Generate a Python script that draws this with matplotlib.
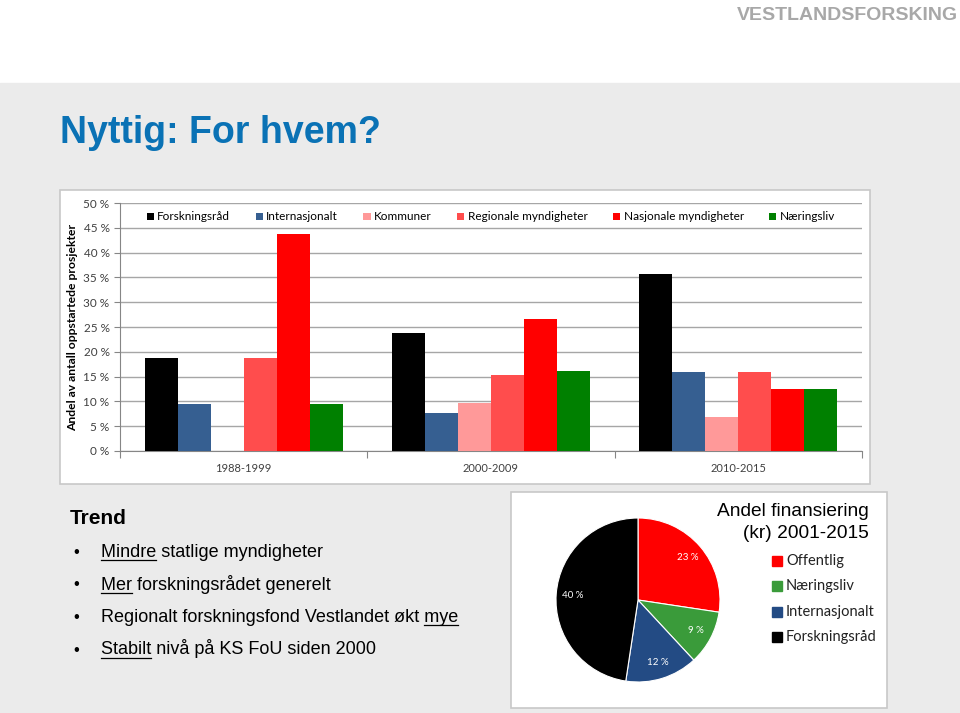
import matplotlib.pyplot as plt
import numpy as np
from matplotlib.patches import Rectangle

# --------------------------------
# Data
# --------------------------------
periods = ['1988-1999', '2000-2009', '2010-2015']
sources = ['Forskningsråd', 'Internasjonalt', 'Kommuner',
           'Regionale myndigheter', 'Nasjonale myndigheter', 'Næringsliv']
forskningsrad = [18.75, 23.8, 35.6]
internasjonalt = [9.4, 7.6, 15.9]
kommuner = [0.0, 9.7, 6.9]
regionale = [18.75, 15.4, 15.9]
nasjonale = [43.75, 26.7, 12.6]
naeringsliv = [9.4, 16.2, 12.6]
bar_colors = ['#000000', '#365f91', '#ff9999', '#ff4d4d', '#ff0000', '#008000']
yticks = list(range(0, 51, 5))

pie_labels = ['Offentlig', 'Næringsliv', 'Internasjonalt', 'Forskningsråd']
pie_values = [23, 9, 12, 40]
pie_colors = ['#ff0000', '#3a9b3a', '#234b84', '#000000']

bullets = [
    ('Mindre', ' statlige myndigheter', 'start'),
    ('Mer', ' forskningsrådet generelt', 'start'),
    ('mye', 'Regionalt forskningsfond Vestlandet økt ', 'end'),
    ('Stabilt', ' nivå på KS FoU siden 2000', 'start'),
]

# --------------------------------
# Figure / slide background
# --------------------------------
W, H = 960, 713
fig = plt.figure(figsize=(W / 100, H / 100), dpi=100)
fig.patch.set_facecolor('white')


def box(x0, y0, x1, y1):
    return [x0 / W, 1 - y1 / H, (x1 - x0) / W, (y1 - y0) / H]


bg = fig.add_axes([0, 0, 1, 1])
bg.set_xlim(0, W)
bg.set_ylim(H, 0)
bg.axis('off')
bg.add_patch(Rectangle((0, 83), W, H - 83, color='#ebebeb', zorder=0))
bg.add_patch(Rectangle((60, 190), 810, 294, facecolor='white',
                       edgecolor='#c8c8c8', lw=1.2, zorder=1))
bg.add_patch(Rectangle((511, 492), 376, 216, facecolor='white',
                       edgecolor='#c8c8c8', lw=1.2, zorder=1))

bg.text(958, 16, 'VESTLANDSFORSKING', ha='right', va='center',
        fontsize=14, fontweight='bold', color='#a8a8a8',
        family='Liberation Sans')
bg.text(60, 133, 'Nyttig: For hvem?', ha='left', va='center',
        fontsize=27, fontweight='bold', color='#0a72b5',
        family='Liberation Sans')

# --------------------------------
# Bullet text
# --------------------------------
bg.text(70, 519, 'Trend', ha='left', va='center', fontsize=15,
        fontweight='bold', family='Liberation Sans')

fig.canvas.draw()
renderer = fig.canvas.get_renderer()
for i, (word, rest, pos) in enumerate(bullets):
    y = 557 + i * 32.5
    bg.text(73, y, '•', ha='left', va='baseline', fontsize=12,
            family='Liberation Sans')
    full = word + rest if pos == 'start' else rest + word
    t = bg.text(101, y, full, ha='left', va='baseline', fontsize=13,
                family='Liberation Sans')
    tw = bg.text(0, 0, word, fontsize=13, family='Liberation Sans')
    wb = tw.get_window_extent(renderer)
    fb = t.get_window_extent(renderer)
    tw.remove()
    if pos == 'start':
        x0, x1 = fb.x0, fb.x0 + wb.width
    else:
        x0, x1 = fb.x1 - wb.width, fb.x1
    # bg axes spans the figure 1:1 in pixels, so display x == data x
    bg.plot([x0, x1], [y + 3, y + 3], color='black', lw=0.9)

# --------------------------------
# Bar chart
# --------------------------------
ax = fig.add_axes(box(120, 203, 862, 451))
series = [forskningsrad, internasjonalt, kommuner, regionale, nasjonale, naeringsliv]
x = np.arange(len(periods))
w = 0.8 / len(series)
for i, (vals, name) in enumerate(zip(series, sources)):
    ax.bar(x + (i - 2.5) * w, vals, w, color=bar_colors[i], label=name, zorder=3)

ax.set_xlim(-0.5, 2.5)
ax.set_ylim(0, 50)
ax.set_yticks(yticks)
ax.set_yticklabels([f'{v} %' for v in yticks], fontsize=8.5, color='#404040',
                   family='Lato')
ax.yaxis.grid(True, color='#a6a6a6', lw=1)
ax.set_axisbelow(True)
ax.set_xticks([-0.5, 0.5, 1.5, 2.5])
ax.set_xticklabels([])
ax.set_xticks(x, minor=True)
ax.set_xticklabels(periods, minor=True, fontsize=8, color='#404040', family='Lato')
ax.tick_params(axis='x', which='minor', length=0, pad=9)
ax.tick_params(axis='x', which='major', length=5, color='#868686')
ax.tick_params(axis='y', length=4, color='#868686')
for s in ['top', 'right']:
    ax.spines[s].set_visible(False)
for s in ['left', 'bottom']:
    ax.spines[s].set_color('#868686')
ax.set_ylabel('Andel av antall oppstartede prosjekter', fontsize=8.7,
              fontweight='bold', family='Lato', labelpad=4)
ax.legend(loc='upper center', bbox_to_anchor=(0.5, 0.985), ncol=6,
          frameon=False, handlelength=0.6, handleheight=0.6,
          handletextpad=0.3, columnspacing=2.15, borderaxespad=0,
          prop={'family': 'Lato', 'size': 8.5})

# --------------------------------
# Pie chart
# --------------------------------
pax = fig.add_axes(box(556, 518, 720, 682))
wedges, _, autotexts = pax.pie(
    pie_values, colors=pie_colors, startangle=90, counterclock=False,
    autopct='%1.0f', pctdistance=0.8,
    wedgeprops={'edgecolor': 'white', 'linewidth': 0.8})
for t, v in zip(autotexts, pie_values):
    t.set_text(f'{v} %')
    t.set_color('white')
    t.set_fontsize(7)
    t.set_family('Lato')
pax.set_xlim(-1, 1)
pax.set_ylim(-1, 1)

bg.text(869, 511, 'Andel finansiering', ha='right', va='center', fontsize=13.8,
        family='Liberation Sans')
bg.text(869, 534, '(kr) 2001-2015', ha='right', va='center', fontsize=13.8,
        family='Liberation Sans')
for i, (lab, col) in enumerate(zip(pie_labels, pie_colors)):
    y = 561 + i * 25.3
    bg.add_patch(Rectangle((772, y - 5), 10, 10, color=col, zorder=2))
    bg.text(786, y, lab, ha='left', va='center', fontsize=10.5, family='Lato',
            color='#222222')

fig.savefig('out.png', dpi=100, facecolor=fig.get_facecolor())
